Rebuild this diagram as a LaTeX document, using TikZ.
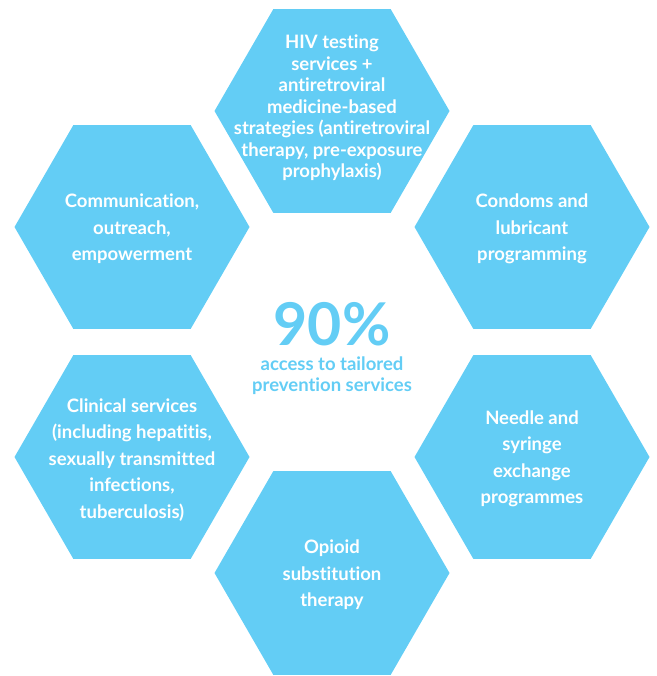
\documentclass[tikz,border=0pt]{standalone}
\usepackage{fontspec}
\setmainfont{Lato}[Ligatures=NoCommon]
\usetikzlibrary{shapes.geometric}
\definecolor{hexblue}{RGB}{99,205,245}

\begin{document}
\begin{tikzpicture}[x=1pt, y=-1pt,
  hexa/.style={regular polygon, regular polygon sides=6,
    minimum size=235pt, inner sep=0pt, fill=hexblue},
  hextext/.style={text=white, align=center, font=\bfseries\fontsize{18.5}{26.5}\selectfont}]
\useasboundingbox (0,0) rectangle (656,676);

% hexagons
\path (332, 111) node[hexa] (hiv) {};
\path (132, 227) node[hexa] (comm) {};
\path (532, 227) node[hexa] (condoms) {};
\path (132, 457) node[hexa] (clinical) {};
\path (532, 457) node[hexa] (needle) {};
\path (332, 573) node[hexa] (opioid) {};

% texts
\path (hiv) ++(0,-3) node[hextext, font=\bfseries\fontsize{18.5}{21.5}\selectfont] (hiv_txt) {HIV testing\\services +\\antiretroviral\\medicine-based\\strategies (antiretroviral\\therapy, pre-exposure\\prophylaxis)};
\path (comm) ++(0,2) node[hextext] (comm_txt) {Communication,\\outreach,\\empowerment};
\path (condoms) ++(0,2) node[hextext] (condoms_txt) {Condoms and\\lubricant\\programming};
\path (clinical) ++(0,3) node[hextext] (clinical_txt) {Clinical services\\(including hepatitis,\\sexually transmitted\\infections,\\tuberculosis)};
\path (needle) ++(0,2) node[hextext] (needle_txt) {Needle and\\syringe\\exchange\\programmes};
\path (opioid) ++(0,2) node[hextext] (opioid_txt) {Opioid\\substitution\\therapy};

% centre
\path (332, 324) node[text=hexblue, font=\bfseries\fontsize{59}{59}\selectfont] (pct) {90\%};
\path (332, 376) node[text=hexblue, align=center, font=\bfseries\fontsize{18.5}{21}\selectfont] (access) {access to tailored\\prevention services};
\end{tikzpicture}
\end{document}
